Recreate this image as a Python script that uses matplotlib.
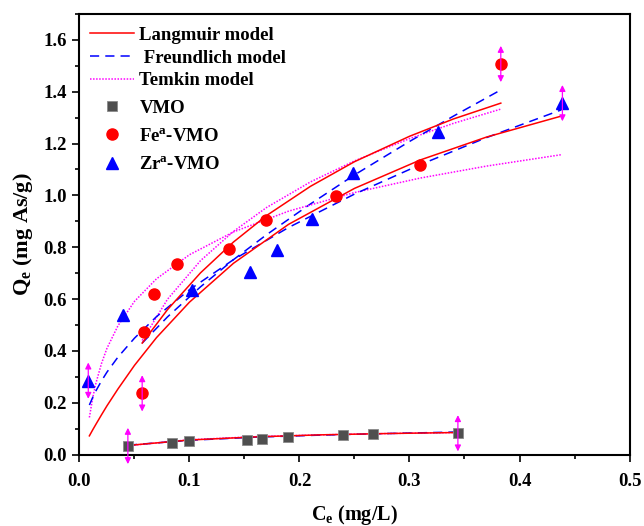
#!/usr/bin/env python3

"""
Adsorption isotherms of VMO, Fe-VMO and Zr-VMO with model fits
"""

import matplotlib
matplotlib.use('Agg')
import matplotlib.pyplot as plt
from matplotlib.ticker import MultipleLocator

# measured points
vmo_x = [0.044, 0.084, 0.100, 0.152, 0.166, 0.190, 0.240, 0.267, 0.344]
vmo_y = [0.033, 0.043, 0.051, 0.055, 0.060, 0.067, 0.074, 0.079, 0.082]

fe_x = [0.057, 0.059, 0.068, 0.089, 0.136, 0.170, 0.233, 0.310, 0.383]
fe_y = [0.236, 0.473, 0.618, 0.737, 0.795, 0.904, 0.997, 1.116, 1.507]

zr_x = [0.008, 0.040, 0.102, 0.155, 0.180, 0.211, 0.249, 0.326, 0.439]
zr_y = [0.285, 0.538, 0.634, 0.705, 0.791, 0.910, 1.086, 1.244, 1.356]

# error shown on first and last point of every series
err = 0.07

# fitted curves
vmo_fx = [0.044, 0.10, 0.16, 0.22, 0.28, 0.345]
vmo_lang = [0.035, 0.056, 0.068, 0.076, 0.081, 0.085]
vmo_freu = [0.036, 0.055, 0.067, 0.075, 0.081, 0.087]
vmo_temk = [0.034, 0.057, 0.069, 0.076, 0.081, 0.085]

fe_fx = [0.057, 0.08, 0.11, 0.14, 0.17, 0.21, 0.25, 0.30, 0.34, 0.383]
fe_lang = [0.430, 0.559, 0.701, 0.820, 0.922, 1.035, 1.130, 1.228, 1.295, 1.356]
fe_freu = [0.430, 0.531, 0.647, 0.752, 0.848, 0.967, 1.079, 1.208, 1.306, 1.407]
fe_temk = [0.440, 0.599, 0.748, 0.861, 0.953, 1.052, 1.133, 1.219, 1.278, 1.333]

zr_fx = [0.009, 0.012, 0.015, 0.02, 0.025, 0.035, 0.05, 0.07, 0.10, 0.14, 0.19, 0.25, 0.31, 0.37, 0.438]
zr_lang = [0.072, 0.095, 0.117, 0.153, 0.188, 0.253, 0.344, 0.451, 0.588, 0.738, 0.888, 1.027, 1.137, 1.225, 1.306]
zr_freu = [0.191, 0.220, 0.246, 0.284, 0.318, 0.376, 0.449, 0.532, 0.636, 0.752, 0.876, 1.005, 1.119, 1.223, 1.330]
zr_temk = [0.143, 0.218, 0.276, 0.351, 0.410, 0.497, 0.591, 0.678, 0.771, 0.859, 0.939, 1.011, 1.067, 1.113, 1.157]

RED, BLUE, MAG, GREY = '#ff0000', '#0000ff', '#ff00ff', '#4f4f4f'

plt.rcParams.update({
	'font.family': 'Liberation Serif',
	'font.weight': 'bold',
	'axes.labelweight': 'bold',
	'mathtext.fontset': 'custom',
	'mathtext.rm': 'Liberation Serif:bold',
	'mathtext.it': 'Liberation Serif:bold',
	'mathtext.bf': 'Liberation Serif:bold',
	'axes.linewidth': 1.5,
})

fig = plt.figure(figsize=(6.44, 5.26), dpi=100)
ax = fig.add_axes([0.1234, 0.1359, 0.8541, 0.8375])

lw = 1.1
dash = (0, (6, 4))
dot = (0, (1, 1))

for fx, la, fr, te in ((vmo_fx, vmo_lang, vmo_freu, vmo_temk),
                       (fe_fx, fe_lang, fe_freu, fe_temk),
                       (zr_fx, zr_lang, zr_freu, zr_temk)) :
	ax.plot(fx, te, color=MAG, lw=lw, linestyle=dot, zorder=2)
	ax.plot(fx, fr, color=BLUE, lw=lw, linestyle=dash, zorder=2)
	ax.plot(fx, la, color=RED, lw=lw, zorder=3)

ax.plot(vmo_x, vmo_y, 's', color=GREY, mec='#8a8a8a', mew=0.6, ms=7.5, zorder=4)
ax.plot(fe_x, fe_y, 'o', color=RED, mec=RED, ms=8, zorder=4)
ax.plot(zr_x, zr_y, '^', color=BLUE, mec=BLUE, ms=9, zorder=4)

# double headed error arrows
for xs, ys in ((vmo_x, vmo_y), (fe_x, fe_y), (zr_x, zr_y)) :
	for i in (0, -1) :
		ax.annotate('', xy=(xs[i], ys[i] + err), xytext=(xs[i], ys[i] - err),
		            arrowprops=dict(arrowstyle='<|-|>', color=MAG, lw=0.9,
		                            mutation_scale=9, shrinkA=0, shrinkB=0),
		            zorder=5)

# legend proxies
h_lang, = ax.plot([], [], color=RED, lw=lw)
h_freu, = ax.plot([], [], color=BLUE, lw=lw, linestyle=dash)
h_temk, = ax.plot([], [], color=MAG, lw=lw, linestyle=dot)
h_vmo, = ax.plot([], [], 's', color=GREY, mec='#8a8a8a', mew=0.6, ms=7.5)
h_fe, = ax.plot([], [], 'o', color=RED, ms=8)
h_zr, = ax.plot([], [], '^', color=BLUE, ms=9)

leg_kw = dict(frameon=False, prop={'size': 13.5, 'weight': 'bold'},
              handlelength=2.35, handletextpad=0.3, borderaxespad=0.0)

leg1 = ax.legend((h_lang, h_freu, h_temk),
                 ('Langmuir model', ' Freundlich model', 'Temkin model'),
                 loc='upper left', bbox_to_anchor=(0.005, 0.988),
                 labelspacing=0.3, **leg_kw)
ax.add_artist(leg1)
ax.legend((h_vmo, h_fe, h_zr), ('VMO', 'Fe$^{a}$-VMO', 'Zr$^{a}$-VMO'),
          loc='upper left', bbox_to_anchor=(0.005, 0.823),
          labelspacing=0.6, **leg_kw)

ax.set_xlim(0, 0.5)
ax.set_ylim(0, 1.7)
ax.xaxis.set_major_locator(MultipleLocator(0.1))
ax.xaxis.set_minor_locator(MultipleLocator(0.05))
ax.yaxis.set_major_locator(MultipleLocator(0.2))
ax.yaxis.set_minor_locator(MultipleLocator(0.1))
ax.tick_params(which='major', direction='out', length=5, width=1.2, labelsize=13.5)
ax.tick_params(which='minor', direction='out', length=3, width=1.2)
ax.tick_params(axis='x', which='major', pad=8)
ax.tick_params(axis='y', which='major', pad=4)
for lab in ax.get_xticklabels() + ax.get_yticklabels() :
	lab.set_fontweight('bold')

ax.set_xlabel('C$_e$ (mg/L)', fontsize=14.5, fontweight='bold', labelpad=10)
ax.set_ylabel('Q$_e$ (mg As/g)', fontsize=16, fontweight='bold', labelpad=6)

fig.savefig('out.png', dpi=100)
